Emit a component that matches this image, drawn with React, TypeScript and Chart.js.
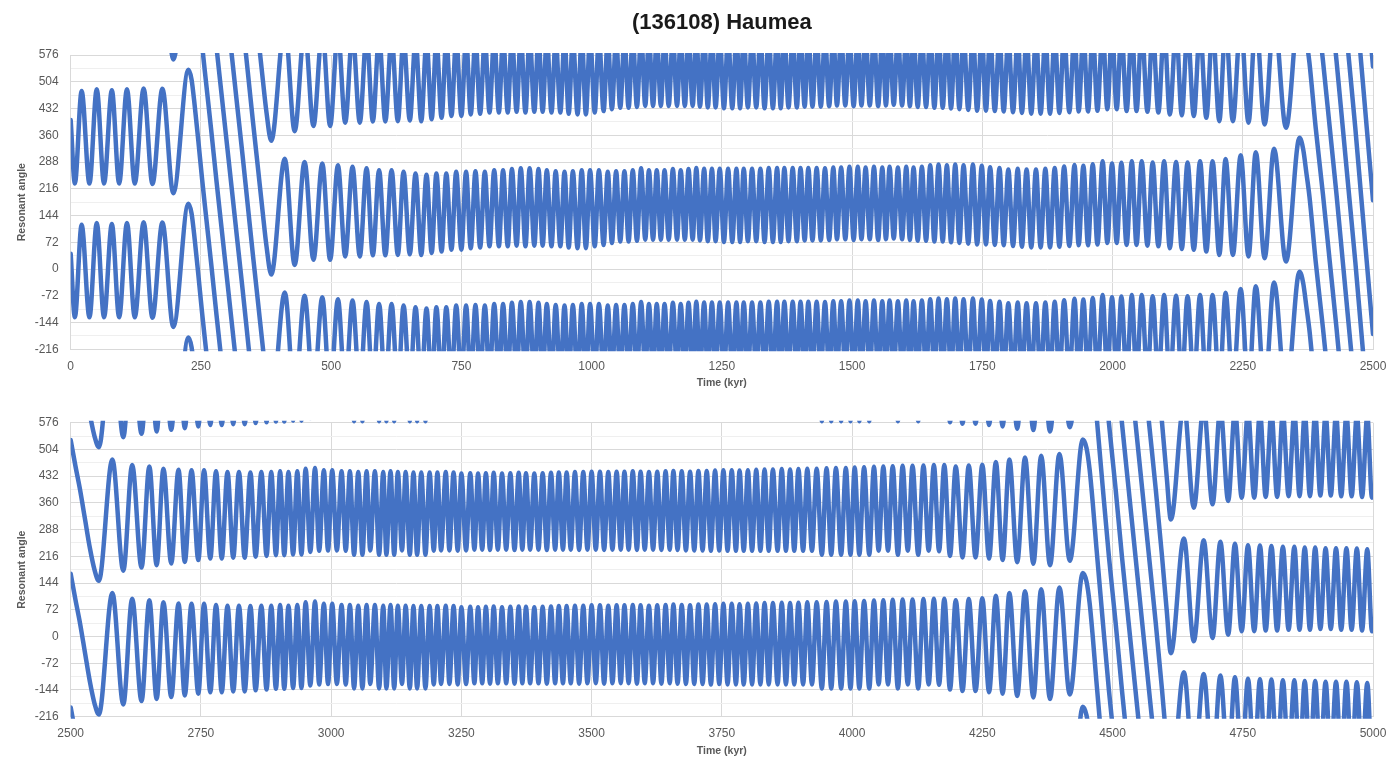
import React, { useEffect, useRef } from "react";
import { Chart, registerables } from "chart.js";

Chart.register(...registerables);

// ---------------- text ----------------
const TITLE = "(136108) Haumea";
const X_TITLE = "Time (kyr)";
const Y_TITLE = "Resonant angle";

// ---------------- tick labels ----------------
const Y_TICKS = [-216, -144, -72, 0, 72, 144, 216, 288, 360, 432, 504, 576];
const TOP_X_TICKS = [0, 250, 500, 750, 1000, 1250, 1500, 1750, 2000, 2250, 2500];
const BOTTOM_X_TICKS = [2500, 2750, 3000, 3250, 3500, 3750, 4000, 4250, 4500, 4750, 5000];
const WRAP = 360; // the angle is also shown shifted by whole turns

// ---------------- series: [time kyr, unwrapped resonant angle deg] ----------------
// Upper panel, 0 - 2500 kyr
const topEarly: [number, number][] = [
  [0, 1841], [8, 1670], [21, 1919], [36, 1670], [50, 1924], [64, 1670], [79, 1921], [93, 1670],
  [108, 1924], [123, 1670], [140, 1926], [157, 1669], [176, 1925], [197, 1644],
];
const topSlip: [number, number][] = [
  [226, 1976], [232, 1950], [238, 1880], [245, 1785], [252, 1685], [260, 1580], [270, 1450],
  [280, 1315], [290, 1185], [300, 1055], [310, 925], [320, 795], [330, 665], [340, 530],
  [350, 395], [360, 265], [368, 160], [376, 60],
];
const topLibration: [number, number][] = [
  [385, -15], [411, 297], [430, 11], [449, 288], [466, 25], [483, 284], [498, 25], [513, 279],
  [527, 34], [541, 275], [555, 34], [568, 271], [580, 37], [592, 266], [604, 37], [616, 266],
  [628, 38], [639, 262], [651, 40], [662, 257], [673, 38], [683, 254], [693, 43], [702, 257],
  [712, 47], [721, 257], [731, 52], [740, 262], [750, 52], [759, 262], [768, 56], [777, 263],
  [786, 58], [795, 262], [804, 61], [813, 266], [822, 61], [830, 266], [839, 61], [847, 269],
  [856, 63], [864, 271], [873, 61], [881, 271], [890, 63], [898, 269], [906, 63], [914, 266],
  [923, 61], [931, 263], [940, 61], [948, 262], [956, 58], [964, 263], [973, 56], [981, 266],
  [989, 56], [997, 266], [1006, 61], [1014, 266], [1023, 65], [1031, 262], [1039, 70], [1047, 263],
  [1055, 74], [1063, 263], [1071, 74], [1079, 266], [1087, 76], [1095, 271], [1103, 79], [1110, 266],
  [1118, 79], [1125, 266], [1133, 79], [1140, 266], [1148, 79], [1156, 269], [1164, 79], [1171, 266],
  [1179, 79], [1186, 269], [1194, 79], [1201, 272], [1208, 77], [1216, 270], [1223, 75], [1231, 270],
  [1238, 75], [1246, 270], [1254, 73], [1262, 270], [1270, 73], [1278, 270], [1285, 73], [1292, 270],
  [1300, 75], [1308, 270], [1316, 75], [1324, 270], [1332, 73], [1340, 272], [1348, 73], [1356, 272],
  [1363, 73], [1370, 272], [1378, 75], [1386, 272], [1394, 75], [1401, 272], [1409, 77], [1416, 272],
  [1424, 77], [1432, 272], [1440, 77], [1448, 271], [1456, 78], [1464, 273], [1471, 80], [1479, 273],
  [1487, 80], [1495, 275], [1503, 78], [1511, 275], [1518, 80], [1526, 273], [1534, 80], [1542, 275],
  [1550, 78], [1558, 273], [1565, 80], [1572, 275], [1580, 82], [1588, 273], [1596, 80], [1604, 275],
  [1611, 78], [1618, 273], [1626, 76], [1634, 275], [1642, 76], [1650, 279], [1658, 74], [1666, 281],
  [1674, 74], [1682, 279], [1690, 72], [1698, 281], [1706, 70], [1714, 279], [1723, 68], [1732, 281],
  [1740, 66], [1749, 278], [1757, 66], [1765, 274], [1774, 65], [1783, 272], [1791, 64], [1800, 268],
  [1809, 62], [1818, 270], [1826, 60], [1835, 268], [1844, 58], [1853, 268], [1862, 58], [1871, 270],
  [1880, 58], [1889, 272], [1898, 60], [1907, 276], [1917, 62], [1927, 280], [1935, 64], [1944, 278],
  [1953, 64], [1962, 282], [1971, 66], [1981, 290], [1990, 70], [1999, 284], [2008, 70], [2017, 286],
  [2027, 65], [2037, 290], [2046, 65], [2056, 290], [2067, 63], [2077, 287], [2088, 61], [2099, 290],
  [2110, 56], [2122, 288], [2133, 54], [2144, 287], [2156, 52], [2168, 290], [2180, 47], [2192, 290],
  [2205, 38], [2217, 296], [2231, 38], [2246, 306], [2261, 34], [2275, 314], [2292, 29], [2310, 324],
  [2333, 20], [2359, 353],
];
const topExit: [number, number][] = [
  [2366, 322], [2372, 260], [2378, 195], [2390, 20], [2404, -160], [2417, -340], [2430, -520],
  [2442, -700], [2454, -880], [2466, -1060], [2477, -1240], [2488, -1420], [2500, -1615],
];

// Lower panel, 2500 - 5000 kyr
const bottomEntry: [number, number][] = [
  [2500, 529], [2509, 460], [2518, 395], [2527, 320], [2537, 237], [2546, 178],
];
const bottomLibration: [number, number][] = [
  [2554, 150], [2580, 477], [2601, 177], [2618, 462], [2636, 186], [2651, 458], [2665, 192], [2678, 452],
  [2693, 197], [2707, 449], [2719, 201], [2732, 448], [2745, 206], [2756, 448], [2768, 210], [2779, 445],
  [2790, 210], [2801, 443], [2812, 212], [2823, 443], [2834, 212], [2845, 442], [2855, 215], [2866, 443],
  [2876, 217], [2885, 443], [2894, 219], [2902, 445], [2910, 219], [2918, 443], [2927, 221], [2935, 445],
  [2943, 221], [2951, 452], [2960, 228], [2969, 454], [2977, 231], [2986, 448], [2994, 232], [3002, 448],
  [3011, 232], [3020, 445], [3028, 231], [3036, 445], [3044, 220], [3052, 443], [3060, 220], [3068, 445],
  [3075, 232], [3084, 445], [3092, 220], [3100, 443], [3106, 220], [3114, 445], [3121, 220], [3128, 443],
  [3136, 232], [3143, 443], [3151, 220], [3158, 442], [3165, 220], [3173, 442], [3181, 220], [3189, 442],
  [3197, 231], [3204, 442], [3211, 232], [3220, 443], [3227, 232], [3235, 442], [3243, 231], [3250, 439],
  [3259, 232], [3267, 440], [3275, 234], [3282, 439], [3290, 234], [3297, 440], [3305, 233], [3312, 441],
  [3320, 234], [3328, 439], [3336, 234], [3344, 440], [3352, 233], [3360, 441], [3367, 234], [3374, 440],
  [3382, 234], [3390, 439], [3398, 234], [3406, 440], [3414, 233], [3422, 441], [3430, 234], [3437, 442],
  [3445, 234], [3452, 442], [3460, 234], [3468, 443], [3476, 233], [3484, 443], [3492, 234], [3500, 444],
  [3508, 234], [3516, 444], [3524, 233], [3532, 443], [3540, 234], [3548, 444], [3556, 234], [3563, 444],
  [3571, 234], [3579, 445], [3587, 233], [3594, 444], [3602, 234], [3610, 443], [3618, 234], [3626, 444],
  [3634, 233], [3642, 445], [3650, 234], [3657, 446], [3665, 233], [3673, 445], [3681, 232], [3689, 444],
  [3697, 232], [3705, 446], [3713, 232], [3721, 446], [3729, 231], [3737, 447], [3745, 232], [3753, 448],
  [3761, 231], [3769, 448], [3777, 231], [3784, 447], [3792, 231], [3800, 448], [3808, 231], [3816, 449],
  [3824, 231], [3832, 450], [3840, 231], [3848, 450], [3857, 231], [3865, 451], [3873, 231], [3881, 450],
  [3889, 231], [3897, 451], [3906, 231], [3914, 452], [3923, 231], [3932, 452], [3942, 220], [3951, 453],
  [3960, 220], [3969, 454], [3979, 220], [3988, 454], [3997, 220], [4005, 455], [4014, 220], [4023, 456],
  [4033, 220], [4042, 457], [4051, 231], [4060, 458], [4069, 231], [4078, 459], [4088, 220], [4097, 460],
  [4107, 231], [4116, 460], [4127, 220], [4137, 461], [4147, 231], [4157, 462], [4167, 230], [4177, 462],
  [4188, 217], [4199, 458], [4212, 213], [4224, 461], [4237, 213], [4250, 463], [4263, 210], [4276, 470],
  [4289, 206], [4302, 477], [4317, 200], [4332, 482], [4348, 196], [4363, 487], [4380, 192], [4398, 492],
  [4418, 204], [4443, 531],
];
const bottomSlip: [number, number][] = [
  [4450, 508], [4456, 450], [4462, 360], [4469, 240], [4481, 45], [4493, -144], [4506, -324],
  [4518, -504], [4531, -684], [4544, -864], [4557, -1044], [4570, -1224], [4583, -1404],
  [4595, -1584], [4604, -1730],
];
const bottomLate: [number, number][] = [
  [4612, -1845], [4637, -1536], [4656, -1813], [4675, -1541], [4692, -1804], [4707, -1545],
  [4722, -1795], [4735, -1550], [4748, -1786], [4760, -1554], [4772, -1786], [4783, -1555],
  [4794, -1784], [4805, -1556], [4816, -1784], [4827, -1558], [4838, -1782], [4849, -1558],
  [4859, -1782], [4869, -1560], [4879, -1782], [4889, -1560], [4899, -1780], [4909, -1562],
  [4919, -1780], [4929, -1562], [4939, -1782], [4949, -1562], [4959, -1782], [4969, -1563],
  [4979, -1784], [4989, -1565], [4998, -1786], [5000, -1770],
];

// ---------------- styling ----------------
const FONT = "'Liberation Sans', Arial, Helvetica, sans-serif";
const LINE_COLOR = "#4472C4";
const LABEL_COLOR = "#595959";
const GRID_MAJOR = "#D9D9D9";
const GRID_MINOR = "#EFEFEF";

function buildDatasets(segments: [number, number][][]) {
  const pts = segments.flat().map(([x, y]) => ({ x, y }));
  const ys = pts.map((p) => p.y);
  const lo = Math.min(...ys);
  const hi = Math.max(...ys);
  const yMin = Y_TICKS[0];
  const yMax = Y_TICKS[Y_TICKS.length - 1];
  const kMin = Math.ceil((yMin - 20 - hi) / WRAP);
  const kMax = Math.floor((yMax + 20 - lo) / WRAP);
  const sets: any[] = [];
  for (let k = kMin; k <= kMax; k++) {
    sets.push({
      data: pts.map((p) => ({ x: p.x, y: p.y + k * WRAP })),
      borderColor: LINE_COLOR,
      backgroundColor: LINE_COLOR,
      borderWidth: 4.5,
      pointRadius: 0,
      pointHoverRadius: 0,
      fill: false,
      cubicInterpolationMode: "monotone",
      capBezierPoints: false,
      borderJoinStyle: "round",
      borderCapStyle: "round",
      clip: { left: 0, right: 0, top: 2, bottom: 2 },
    });
  }
  return sets;
}

function makeConfig(segments: [number, number][][], xTicks: number[], withTitle: boolean, padTop: number, padBottom: number): any {
  return {
    type: "line",
    data: { datasets: buildDatasets(segments) },
    options: {
      animation: false,
      responsive: false,
      maintainAspectRatio: false,
      events: [],
      layout: { padding: { left: 0, right: 27, top: padTop, bottom: padBottom } },
      plugins: {
        legend: { display: false },
        tooltip: { enabled: false },
        title: {
          display: withTitle,
          text: TITLE,
          fullSize: false,
          color: "#1a1a1a",
          font: { family: FONT, size: 22, weight: "bold", lineHeight: 1.2 },
          padding: { top: 10, bottom: 18.6 },
        },
      },
      scales: {
        x: {
          type: "linear",
          min: xTicks[0],
          max: xTicks[xTicks.length - 1],
          afterBuildTicks: (scale: any) => {
            scale.ticks = xTicks.map((v) => ({ value: v }));
          },
          ticks: {
            autoSkip: false,
            maxRotation: 0,
            padding: 10,
            color: LABEL_COLOR,
            font: { family: FONT, size: 12 },
            callback: (v: number) => String(v),
          },
          grid: { color: GRID_MAJOR, drawTicks: false, lineWidth: 1 },
          border: { display: true, color: GRID_MAJOR },
          title: {
            display: true,
            text: X_TITLE,
            color: LABEL_COLOR,
            font: { family: FONT, size: 10.5, weight: "bold", lineHeight: 1.2 },
            padding: { top: 0, bottom: 5.4 },
          },
          afterFit: (scale: any) => {
            scale.height = 45.7;
          },
        },
        y: {
          type: "linear",
          min: Y_TICKS[0],
          max: Y_TICKS[Y_TICKS.length - 1],
          ticks: {
            stepSize: (Y_TICKS[1] - Y_TICKS[0]) / 2,
            autoSkip: false,
            padding: 12,
            color: LABEL_COLOR,
            font: { family: FONT, size: 12 },
            callback: (v: number) => (Y_TICKS.includes(v) ? String(v) : ""),
          },
          grid: {
            drawTicks: false,
            lineWidth: 1,
            color: (ctx: any) => (ctx.tick && Y_TICKS.includes(ctx.tick.value) ? GRID_MAJOR : GRID_MINOR),
          },
          border: { display: true, color: GRID_MAJOR },
          title: {
            display: true,
            text: Y_TITLE,
            color: LABEL_COLOR,
            font: { family: FONT, size: 10.5, weight: "bold", lineHeight: 1.2 },
            padding: { top: 15.7, bottom: 0 },
          },
          afterFit: (scale: any) => {
            scale.width = 70.7;
          },
        },
      },
    },
  };
}

export default function App() {
  const topRef = useRef<HTMLCanvasElement | null>(null);
  const bottomRef = useRef<HTMLCanvasElement | null>(null);

  useEffect(() => {
    Chart.defaults.font.family = FONT;
    const charts: Chart[] = [];
    if (topRef.current) {
      charts.push(
        new Chart(
          topRef.current,
          makeConfig([topEarly, topSlip, topLibration, topExit], TOP_X_TICKS, true, 0, 0)
        )
      );
    }
    if (bottomRef.current) {
      charts.push(
        new Chart(
          bottomRef.current,
          makeConfig([bottomEntry, bottomLibration, bottomSlip, bottomLate], BOTTOM_X_TICKS, false, 27.7, 11.6)
        )
      );
    }
    return () => {
      charts.forEach((c) => c.destroy());
    };
  }, []);

  return (
    <div style={{ position: "absolute", left: 0, top: 0, width: 1400, height: 774, background: "#ffffff" }}>
      <canvas
        ref={topRef}
        width={1400}
        height={395}
        style={{ position: "absolute", left: 0, top: 0, width: 1400, height: 395 }}
      />
      <canvas
        ref={bottomRef}
        width={1400}
        height={379}
        style={{ position: "absolute", left: 0, top: 395, width: 1400, height: 379 }}
      />
    </div>
  );
}
